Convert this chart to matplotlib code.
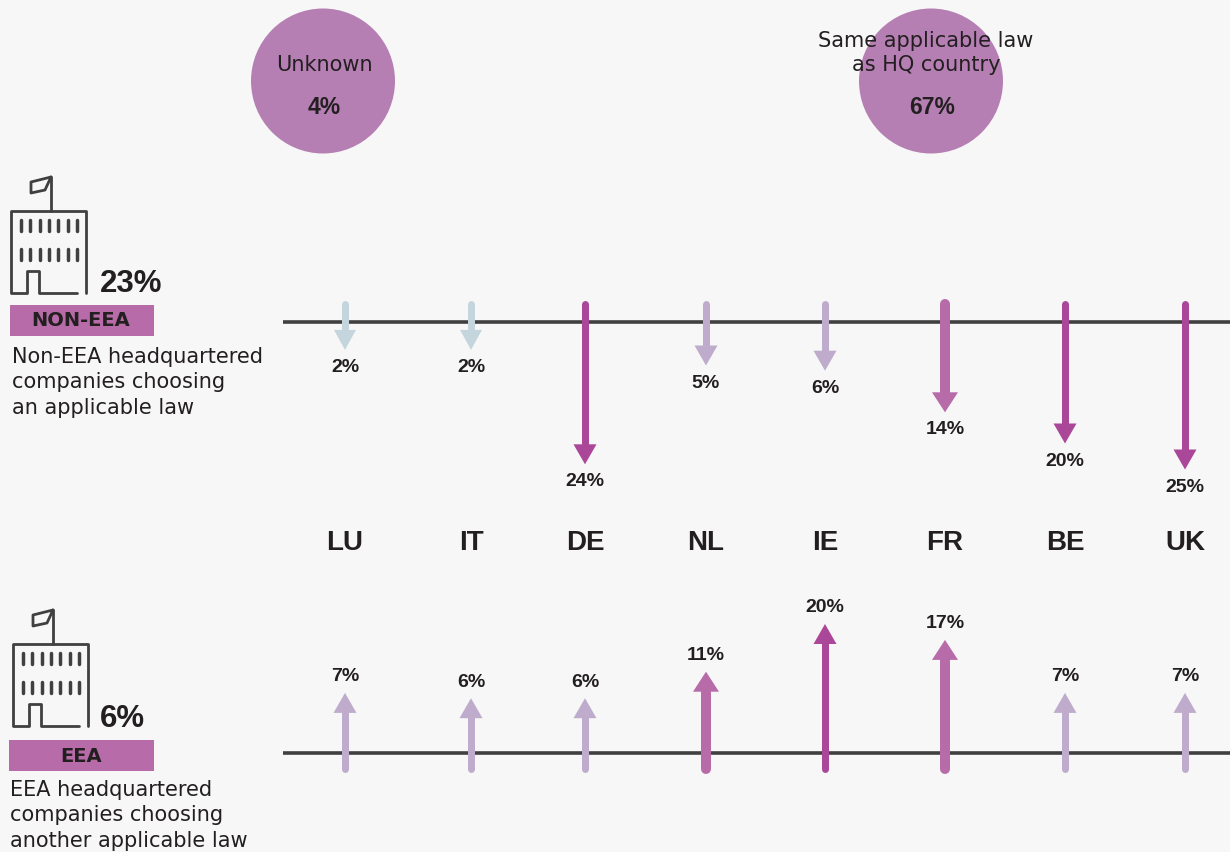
import matplotlib
matplotlib.use('Agg')
import matplotlib.pyplot as plt
from matplotlib.patches import Ellipse, Rectangle

countries = ['LU', 'IT', 'DE', 'NL', 'IE', 'FR', 'BE', 'UK']
non_eea = [2, 2, 24, 5, 6, 14, 20, 25]
eea = [7, 6, 6, 11, 20, 17, 7, 7]
non_eea_total = 23
eea_total = 6
unknown = 4
same_law = 67

country_x = [345, 471, 585, 706, 825, 945, 1065, 1185]

BG = '#f7f7f7'
DARK = '#231f20'
LINE = '#404040'
BLUE = '#c5d5de'
LAV = '#bfaccd'
MID = '#b76ba9'
DEEP = '#ab4799'
CIRCLE = '#b57fb3'
BODY = 'DejaVu Sans'
BOLD = 'Liberation Sans'


def arrow_style(value):
    if value <= 2:
        return BLUE, 7, 22
    if value <= 7:
        return LAV, 7, 23
    if value < 20:
        return MID, 10, 26
    return DEEP, 7, 23


def draw_arrow(ax, x, y0, tip, color, lw, head):
    d = 1 if tip > y0 else -1
    neck = tip - d * 20
    ax.plot([x, x], [y0, neck], color=color, lw=lw * 0.72, solid_capstyle='round', zorder=3)
    ax.fill([x - head / 2, x + head / 2, x], [neck, neck, tip], color=color, lw=0, zorder=3)


def draw_building(ax, dx, dy):
    kw = dict(color=LINE, lw=2.0, solid_capstyle='round', solid_joinstyle='round')
    ax.plot([v + dx for v in [77, 39, 39, 27, 27, 11, 11, 86, 86]],
            [v + dy for v in [293, 293, 271, 271, 293, 293, 211, 211, 293]], **kw)
    ax.plot([51 + dx, 51 + dx], [177 + dy, 211 + dy], **kw)
    ax.plot([v + dx for v in [51, 31, 31, 45, 51]],
            [v + dy for v in [177, 182, 193, 190, 177]], **kw)
    for wx in [21, 30, 40, 49, 58, 68, 77]:
        for wy in [220, 249]:
            ax.plot([wx + dx, wx + dx], [wy + dy, wy + 11 + dy], color=LINE, lw=2.5,
                    solid_capstyle='round')


fig = plt.figure(figsize=(12.3, 8.52), dpi=100, facecolor=BG)
ax = fig.add_axes([0, 0, 1, 1])
ax.set_xlim(0, 1230)
ax.set_ylim(852, 0)
ax.axis('off')

# top circles
for cx, name, val in [(323, 'Unknown', unknown), (931, 'Same applicable law\nas HQ country', same_law)]:
    ax.add_patch(Ellipse((cx, 81), 144, 145, color=CIRCLE, lw=0, zorder=1))
    if '\n' in name:
        ax.text(cx - 5, 53, name, ha='center', va='center', family=BODY, fontsize=15,
                color=DARK, linespacing=1.3, zorder=4)
    else:
        ax.text(cx + 1, 65, name, ha='center', va='center', family=BODY, fontsize=15, color=DARK, zorder=4)
    ax.text(cx + 1, 107, f'{val}%', ha='center', va='center', family=BOLD, weight='bold',
            fontsize=16.5, color=DARK, zorder=4)

# base lines
ax.plot([283, 1230], [322, 322], color=LINE, lw=2.6, solid_capstyle='butt', zorder=2)
ax.plot([283, 1230], [753, 753], color=LINE, lw=2.6, solid_capstyle='butt', zorder=2)

for x, name, down, up in zip(country_x, countries, non_eea, eea):
    ax.text(x, 543, name, ha='center', va='center', family=BOLD, weight='bold', fontsize=20, color=DARK)

    color, lw, head = arrow_style(down)
    tip = 322 + 17.5 + 5.2 * down
    draw_arrow(ax, x, 304, tip, color, lw, head)
    ax.text(x, tip + 17.5, f'{down}%', ha='center', va='center', family=BOLD, weight='bold',
            fontsize=14, color=DARK)

    color, lw, head = arrow_style(up)
    tip = 753 - 23 - 5.3 * up
    draw_arrow(ax, x, 769, tip, color, lw, head)
    ax.text(x, tip - 16, f'{up}%', ha='center', va='center', family=BOLD, weight='bold',
            fontsize=14, color=DARK)

# left side blocks
draw_building(ax, 0, 0)
draw_building(ax, 2, 433)

ax.text(100, 292, f'{non_eea_total}%', ha='left', va='baseline', family=BOLD, weight='bold',
        fontsize=22.5, color=DARK)
ax.text(100, 727, f'{eea_total}%', ha='left', va='baseline', family=BOLD, weight='bold',
        fontsize=22.5, color=DARK)

ax.add_patch(Rectangle((10, 305), 144, 31, color=MID, lw=0))
ax.add_patch(Rectangle((9, 740), 145, 31, color=MID, lw=0))
ax.text(81, 321, 'NON-EEA', ha='center', va='center', family=BODY, weight='bold', fontsize=14, color=DARK)
ax.text(81, 756, 'EEA', ha='center', va='center', family=BODY, weight='bold', fontsize=14, color=DARK)

for y, line in zip([357, 382, 408], ['Non-EEA headquartered', 'companies choosing', 'an applicable law']):
    ax.text(12, y, line, ha='left', va='center', family=BODY, fontsize=15, color=DARK)
for y, line in zip([790, 815, 841], ['EEA headquartered', 'companies choosing', 'another applicable law']):
    ax.text(10, y, line, ha='left', va='center', family=BODY, fontsize=15, color=DARK)

fig.savefig('out.png', dpi=100, facecolor=BG)
